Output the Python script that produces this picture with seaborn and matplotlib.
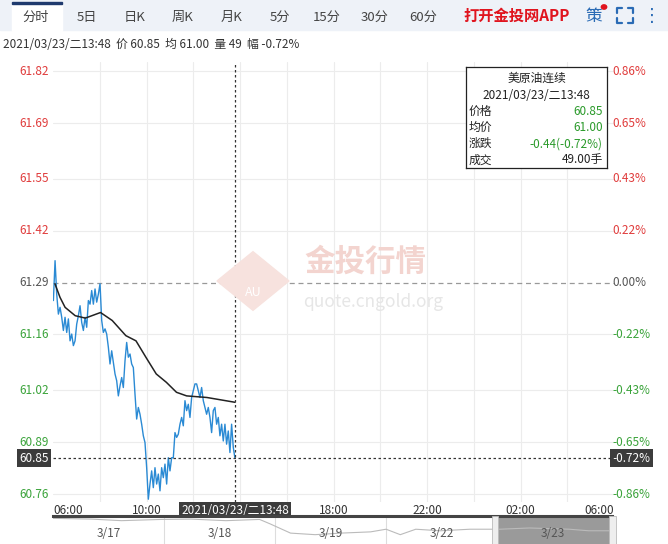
import numpy as np
import pandas as pd
import matplotlib
matplotlib.use("Agg")
import matplotlib.pyplot as plt
import matplotlib.patches as mpatches
from matplotlib.lines import Line2D
import seaborn as sns

sns.set_style("white")
plt.rcParams['font.family'] = ['Noto Sans CJK SC', 'DejaVu Sans']

# ---------------- data ----------------
price = [61.245, 61.345, 61.261, 61.211, 61.228, 61.203, 61.170, 61.203, 61.165, 61.199,
         61.144, 61.161, 61.132, 61.144, 61.186, 61.207, 61.232, 61.190, 61.170, 61.203,
         61.178, 61.245, 61.236, 61.270, 61.236, 61.274, 61.241, 61.261, 61.287, 61.195,
         61.165, 61.174, 61.161, 61.128, 61.086, 61.119, 61.090, 61.061, 61.044, 61.006,
         61.031, 61.052, 61.027, 61.094, 61.140, 61.103, 61.111, 61.086, 61.077, 61.010,
         60.948, 60.977, 60.960, 60.935, 60.906, 60.889, 60.826, 60.747, 60.785, 60.818,
         60.776, 60.826, 60.785, 60.810, 60.768, 60.826, 60.801, 60.835, 60.785, 60.851,
         60.818, 60.851, 60.851, 60.914, 60.902, 60.910, 60.935, 60.952, 60.931, 60.994,
         60.969, 60.985, 60.952, 61.002, 61.019, 61.036, 61.036, 61.019, 61.002, 61.027,
         60.994, 60.977, 60.960, 60.977, 60.952, 60.914, 60.969, 60.977, 60.935, 60.952,
         60.906, 60.935, 60.893, 60.935, 60.885, 60.918, 60.864, 60.935, 60.877, 60.850]
avg_min = [5, 18, 31, 57, 83, 122, 152, 187, 213, 239, 265, 291, 317, 343, 395, 467]
avg_price = [61.287, 61.253, 61.228, 61.207, 61.201, 61.215, 61.195, 61.157, 61.144,
             61.102, 61.061, 61.040, 61.015, 61.006, 61.002, 60.990]
left_ticks = [61.82, 61.69, 61.55, 61.42, 61.29, 61.16, 61.02, 60.89, 60.76]
right_labels = ["0.86%", "0.65%", "0.43%", "0.22%", "0.00%", "-0.22%", "-0.43%", "-0.65%", "-0.86%"]
time_labels = ["06:00", "10:00", "18:00", "22:00", "02:00", "06:00"]
time_pos = [0, 240, 720, 960, 1200, 1440]
prev_close = 61.29
last_price = 60.85
cursor_min = 467
nav_x = [0, 0.3, 0.53, 0.84, 1.07, 1.34, 1.6, 1.68, 1.84, 2.03, 2.23, 2.46, 2.58, 2.69,
         2.81, 3.0, 3.23, 3.46, 3.69, 4.0, 4.15, 4.33]
nav_y = [61.95, 61.9, 61.8, 61.88, 61.9, 61.8, 61.88, 61.6, 61.0, 60.9, 61.0, 61.08,
         61.25, 60.9, 61.25, 61.15, 61.25, 61.25, 61.33, 61.25, 61.15, 61.15]
nav_days = ["3/17", "3/18", "3/19", "3/22", "3/23"]

df = pd.DataFrame({"t": np.linspace(1, cursor_min, len(price)), "p": price})
dfa = pd.DataFrame({"t": avg_min, "p": avg_price})

W, H = 668, 544
fig = plt.figure(figsize=(W / 100, H / 100), dpi=100)

def box(x0, y0, x1, y1):
    return [x0 / W, 1 - y1 / H, (x1 - x0) / W, (y1 - y0) / H]

# header bar
fig.patches.append(mpatches.Rectangle((0, 1 - 30 / H), 1, 30 / H, transform=fig.transFigure,
                                      color="#eef2f8", zorder=0))
fig.patches.append(mpatches.Rectangle((12 / W, 1 - 31 / H), 50 / W, 29 / H, transform=fig.transFigure,
                                      color="white", zorder=1))
fig.patches.append(mpatches.Rectangle((12 / W, 1 - 4 / H), 50 / W, 2 / H, transform=fig.transFigure,
                                      color="#1f3a6e", zorder=2))
tabs = [("分时", 36), ("5日", 87), ("日K", 135), ("周K", 183), ("月K", 232), ("5分", 280),
        ("15分", 327), ("30分", 375), ("60分", 423)]
for t, x in tabs:
    fig.text(x / W, 1 - 17 / H, t, fontsize=9.5, color="#444", ha="center", va="center", zorder=3)
fig.text(517 / W, 1 - 16 / H, "打开金投网APP", fontsize=11, color="#e0141e", ha="center",
         va="center", weight="bold", zorder=3)
fig.text(594 / W, 1 - 16 / H, "策", fontsize=12, color="#2a6bb5", ha="center", va="center", zorder=3)
fig.patches.append(mpatches.Circle((604 / W, 1 - 7 / H), 0.004, transform=fig.transFigure,
                                   color="#e0141e", zorder=3))
# fullscreen icon corners
cx0, cx1, cy0, cy1, L = 617, 633, 8, 23, 5
for (px, py, dx, dy) in [(cx0, cy0, 1, 1), (cx1, cy0, -1, 1), (cx0, cy1, 1, -1), (cx1, cy1, -1, -1)]:
    fig.lines.append(Line2D([(px + dx * L) / W, px / W, px / W],
                            [1 - py / H, 1 - py / H, 1 - (py + dy * L) / H],
                            transform=fig.transFigure, color="#2a6bb5", lw=1.6, zorder=3))
fig.text(652 / W, 1 - 16 / H, "⋮", fontsize=13, color="#2a6bb5", ha="center", va="center", zorder=3,
         family="DejaVu Sans")
fig.text(3 / W, 1 - 45 / H, "2021/03/23/二13:48  价 60.85  均 61.00  量 49  幅 -0.72%",
         fontsize=8.5, color="#333", ha="left", va="center")

# main axes
ax = fig.add_axes(box(53, 62, 614, 502))
ymin, ymax = 60.74, 61.843
ax.set_xlim(0, 1440)
ax.set_ylim(ymin, ymax)
for s in ax.spines.values():
    s.set_visible(False)
ax.set_xticks([])
ax.set_yticks([])
for v in left_ticks:
    if v != prev_close:
        ax.axhline(v, color="#ececec", lw=0.8, zorder=0)
for m in range(120, 1440, 120):
    ax.axvline(m, color="#ececec", lw=0.8, zorder=0)
ax.axhline(prev_close, color="#999", lw=0.9, ls=(0, (4, 3)), zorder=1)

# watermark
fig.patches.append(mpatches.RegularPolygon((253 / W, 1 - 281 / H), 4, radius=36 / W, orientation=0,
                                           transform=fig.transFigure, color="#f7e2de", zorder=0.5))
fig.text(253 / W, 1 - 292 / H, "AU", fontsize=9, color="white", ha="center", va="center", zorder=1)
fig.text(365 / W, 1 - 262 / H, "金投行情", fontsize=22, color="#f3d4cf", ha="center", va="center",
         weight="bold")
fig.text(373 / W, 1 - 302 / H, "quote.cngold.org", fontsize=12.5, color="#e6e6e6", ha="center",
         va="center")

sns.lineplot(data=df, x="t", y="p", ax=ax, color="#2a8ad4", lw=1.0, zorder=3)
sns.lineplot(data=dfa, x="t", y="p", ax=ax, color="#222", lw=1.1, zorder=3)
ax.set_xlabel("")
ax.set_ylabel("")
ax.axhline(last_price, color="#333", lw=0.9, ls=(0, (2, 2)), zorder=4)
ax.axvline(cursor_min, color="#333", lw=0.9, ls=(0, (2, 2)), zorder=4)

# y labels
for v, r in zip(left_ticks, right_labels):
    col = "#e03c3c" if v > prev_close else ("#555" if v == prev_close else "#3aa33a")
    ax.annotate(f"{v:.2f}", (0, v), xycoords=("axes fraction", "data"), xytext=(-3, 0),
                textcoords="offset points", fontsize=8.5, color=col, ha="right", va="center")
    ax.annotate(r, (1, v), xycoords=("axes fraction", "data"), xytext=(-1, 0),
                textcoords="offset points", fontsize=8.5, color=col, ha="left", va="center")
ax.annotate("60.85", (0, last_price), xycoords=("axes fraction", "data"), xytext=(-3, 0),
            textcoords="offset points", fontsize=8.5, color="white", ha="right", va="center",
            bbox=dict(boxstyle="square,pad=0.2", fc="#3c3c3c", ec="none"))
ax.annotate("-0.72%", (1, last_price), xycoords=("axes fraction", "data"), xytext=(-1, 0),
            textcoords="offset points", fontsize=8.5, color="white", ha="left", va="center",
            bbox=dict(boxstyle="square,pad=0.2", fc="#3c3c3c", ec="none"))

# time labels
for lab, p in zip(time_labels, time_pos):
    ha = "left" if p == 0 else ("right" if p == 1440 else "center")
    ax.annotate(lab, (p, 0), xycoords=("data", "axes fraction"), xytext=(0, -6),
                textcoords="offset points", fontsize=8.5, color="#333", ha=ha, va="center")
ax.annotate("2021/03/23/二13:48", (cursor_min, 0), xycoords=("data", "axes fraction"),
            xytext=(0, -6), textcoords="offset points", fontsize=8.5, color="white", ha="center",
            va="center", bbox=dict(boxstyle="square,pad=0.15", fc="#3c3c3c", ec="none"))

# info box
ib = fig.add_axes(box(466, 67, 607, 168))
ib.set_xticks([]); ib.set_yticks([])
ib.set_facecolor("white")
for s in ib.spines.values():
    s.set_color("#222"); s.set_linewidth(0.9)
rows = [("价格", "60.85", "#2a9a2a"), ("均价", "61.00", "#2a9a2a"),
        ("涨跌", "-0.44(-0.72%)", "#2a9a2a"), ("成交", "49.00手", "#222")]
ib.text(0.5, 0.89, "美原油连续", ha="center", va="center", fontsize=8.5, color="#222")
ib.text(0.5, 0.72, "2021/03/23/二13:48", ha="center", va="center", fontsize=8.5, color="#222")
for i, (a, b, c) in enumerate(rows):
    y = 0.56 - i * 0.16
    ib.text(0.02, y, a, ha="left", va="center", fontsize=8.5, color="#222")
    ib.text(0.97, y, b, ha="right", va="center", fontsize=8.5, color=c)

# navigator
nav = fig.add_axes(box(53, 516, 612, 544))
nav.set_xlim(0, 4.33)
nav.set_ylim(60.3, 62.1)
nav.set_xticks([]); nav.set_yticks([])
for k, s in nav.spines.items():
    s.set_visible(k == "top")
nav.spines["top"].set_color("#444"); nav.spines["top"].set_linewidth(2.2)
nav.axvspan(3.43, 4.33, color="#9a9a9a", zorder=0)
for d in range(1, 4):
    nav.axvline(d * 0.86, color="#ddd", lw=0.8, zorder=0)
sns.lineplot(x=nav_x, y=nav_y, ax=nav, color="#bbbbbb", lw=0.8)
for i, d in enumerate(nav_days):
    nav.text(i * 0.86 + 0.43, 61.0, d, ha="center", va="center", fontsize=8.5, color="#555")
nav.add_patch(mpatches.Rectangle((3.40, 60.3), 0.05, 1.8, color="#eee", ec="#bbb", lw=0.6,
                                 zorder=3, clip_on=False))
nav.add_patch(mpatches.Rectangle((4.31, 60.3), 0.05, 1.8, color="#eee", ec="#bbb", lw=0.6,
                                 zorder=3, clip_on=False))

fig.savefig("out.png", dpi=100)
